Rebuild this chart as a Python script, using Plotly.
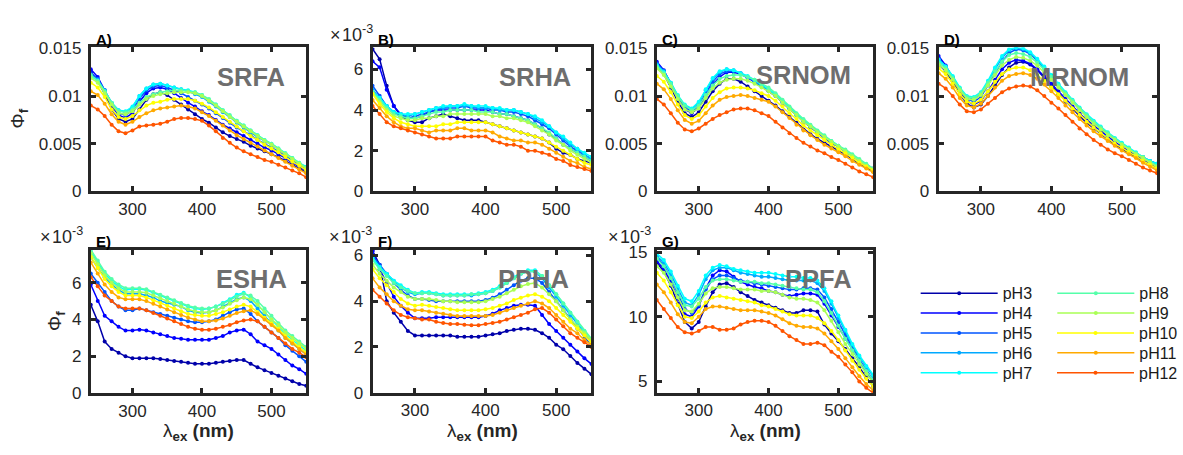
import plotly.graph_objects as go

W, H = 1183, 455
FONT = "Liberation Sans, Arial, sans-serif"
AXC = "#262626"

# ---------------- data (quantum yield, in units of 1e-3) ----------------
WL = list(range(240, 551, 10))  # excitation wavelength, nm
PH = ["pH3", "pH4", "pH5", "pH6", "pH7", "pH8", "pH9", "pH10", "pH11", "pH12"]
COLORS = ["#0000AA", "#0000FF", "#0055FF", "#00AAFF", "#00FFFF",
          "#55FFAA", "#AAFF55", "#FFFF00", "#FFAA00", "#FF5500"]

SRFA = [
    [12.5, 11.6, 10.2, 8.6, 7.6, 7.3, 7.6, 8.6, 9.6, 10.2, 10.4, 10.1, 9.6, 9.1, 8.6, 8.1, 7.6, 7.2, 6.7, 6.2, 5.8, 5.5, 5.2, 4.8, 4.5, 4.2, 3.9, 3.6, 3.2, 2.8, 2.4, 2.0],
    [12.8, 12.0, 10.6, 9.0, 8.0, 7.7, 8.2, 9.4, 10.3, 10.8, 10.9, 10.7, 10.3, 9.8, 9.3, 8.9, 8.4, 8.0, 7.5, 7.0, 6.6, 6.2, 5.8, 5.4, 5.0, 4.6, 4.3, 3.9, 3.5, 3.0, 2.6, 2.1],
    [12.4, 11.8, 10.6, 9.2, 8.2, 8.0, 8.5, 9.7, 10.6, 11.0, 11.1, 10.9, 10.6, 10.3, 9.9, 9.5, 9.1, 8.7, 8.2, 7.7, 7.2, 6.7, 6.3, 5.9, 5.4, 5.0, 4.6, 4.2, 3.7, 3.3, 2.8, 2.3],
    [12.2, 11.7, 10.6, 9.3, 8.5, 8.3, 8.8, 10.0, 10.8, 11.2, 11.3, 11.1, 10.9, 10.7, 10.5, 10.2, 9.9, 9.4, 8.9, 8.3, 7.8, 7.2, 6.7, 6.2, 5.7, 5.3, 4.9, 4.4, 3.9, 3.4, 2.9, 2.5],
    [12.1, 11.6, 10.5, 9.3, 8.5, 8.4, 8.9, 10.0, 10.8, 11.2, 11.3, 11.1, 10.9, 10.7, 10.6, 10.4, 10.1, 9.6, 9.1, 8.5, 7.9, 7.4, 6.9, 6.4, 5.9, 5.4, 5.0, 4.5, 4.0, 3.5, 3.0, 2.6],
    [12.2, 11.6, 10.5, 9.3, 8.4, 8.3, 8.6, 9.3, 9.9, 10.2, 10.4, 10.5, 10.6, 10.6, 10.5, 10.4, 10.1, 9.7, 9.1, 8.5, 8.0, 7.4, 6.9, 6.4, 5.9, 5.4, 5.0, 4.5, 4.0, 3.5, 3.0, 2.5],
    [11.9, 11.4, 10.3, 9.1, 8.2, 8.1, 8.4, 9.1, 9.7, 10.0, 10.2, 10.3, 10.4, 10.4, 10.4, 10.3, 10.0, 9.5, 9.0, 8.4, 7.8, 7.3, 6.8, 6.3, 5.8, 5.3, 4.9, 4.4, 3.9, 3.4, 2.9, 2.4],
    [11.4, 10.9, 9.9, 8.6, 7.8, 7.6, 7.9, 8.5, 9.0, 9.3, 9.4, 9.6, 9.7, 9.7, 9.7, 9.5, 9.2, 8.8, 8.3, 7.8, 7.3, 6.8, 6.3, 5.8, 5.4, 4.9, 4.5, 4.1, 3.6, 3.1, 2.7, 2.2],
    [10.5, 10.1, 9.2, 8.1, 7.3, 7.0, 7.3, 7.8, 8.2, 8.5, 8.7, 8.8, 8.9, 9.0, 8.9, 8.7, 8.3, 7.9, 7.4, 6.9, 6.4, 5.9, 5.5, 5.1, 4.7, 4.3, 3.9, 3.5, 3.1, 2.7, 2.3, 1.9],
    [9.0, 8.6, 7.9, 7.0, 6.3, 6.1, 6.4, 6.8, 6.9, 7.0, 7.1, 7.3, 7.6, 7.7, 7.7, 7.6, 7.4, 6.9, 6.3, 5.6, 5.1, 4.6, 4.2, 3.9, 3.6, 3.3, 3.1, 2.8, 2.5, 2.2, 1.9, 1.5],
]

SRHA = [
    [7.0, 6.5, 5.2, 4.2, 3.7, 3.5, 3.4, 3.4, 3.6, 3.7, 3.8, 3.7, 3.6, 3.5, 3.5, 3.5, 3.4, 3.3, 3.2, 3.1, 3.0, 2.9, 2.8, 2.7, 2.6, 2.4, 2.1, 1.9, 1.8, 1.6, 1.5, 1.4],
    [6.4, 6.1, 5.0, 4.2, 3.8, 3.6, 3.6, 3.7, 3.9, 4.0, 4.0, 4.0, 4.0, 4.0, 4.0, 4.0, 4.0, 3.9, 3.8, 3.8, 3.7, 3.6, 3.5, 3.3, 3.1, 2.8, 2.6, 2.3, 2.1, 1.9, 1.7, 1.5],
    [5.2, 4.7, 4.2, 3.9, 3.7, 3.6, 3.7, 3.8, 3.9, 4.0, 4.1, 4.1, 4.1, 4.2, 4.1, 4.1, 4.1, 4.0, 4.0, 3.9, 3.9, 3.8, 3.7, 3.5, 3.3, 3.1, 2.8, 2.5, 2.2, 2.0, 1.8, 1.6],
    [5.0, 4.6, 4.2, 3.9, 3.8, 3.7, 3.8, 3.9, 4.0, 4.1, 4.1, 4.2, 4.2, 4.2, 4.2, 4.1, 4.1, 4.1, 4.0, 4.0, 4.0, 3.9, 3.8, 3.6, 3.4, 3.2, 2.9, 2.6, 2.3, 2.1, 1.8, 1.6],
    [4.9, 4.6, 4.2, 3.9, 3.8, 3.8, 3.8, 3.9, 4.0, 4.1, 4.2, 4.2, 4.2, 4.3, 4.2, 4.2, 4.2, 4.1, 4.1, 4.0, 4.0, 3.9, 3.8, 3.7, 3.5, 3.2, 2.9, 2.7, 2.4, 2.1, 1.9, 1.7],
    [4.9, 4.5, 4.1, 3.8, 3.7, 3.6, 3.6, 3.7, 3.8, 3.9, 3.9, 4.0, 4.0, 4.0, 4.0, 3.9, 3.9, 3.9, 3.8, 3.8, 3.7, 3.6, 3.5, 3.3, 3.1, 2.9, 2.6, 2.3, 2.1, 1.9, 1.7, 1.5],
    [4.8, 4.4, 4.0, 3.7, 3.6, 3.5, 3.5, 3.6, 3.6, 3.7, 3.7, 3.8, 3.8, 3.8, 3.8, 3.8, 3.8, 3.7, 3.7, 3.6, 3.6, 3.5, 3.4, 3.2, 3.0, 2.8, 2.5, 2.3, 2.0, 1.8, 1.6, 1.4],
    [4.8, 4.3, 3.9, 3.6, 3.4, 3.3, 3.2, 3.2, 3.2, 3.2, 3.3, 3.3, 3.4, 3.4, 3.4, 3.4, 3.4, 3.3, 3.2, 3.1, 3.0, 2.9, 2.8, 2.7, 2.6, 2.4, 2.2, 2.0, 1.8, 1.6, 1.4, 1.3],
    [4.5, 4.1, 3.7, 3.4, 3.2, 3.1, 3.1, 3.0, 2.9, 3.0, 3.0, 3.0, 3.1, 3.1, 3.0, 3.0, 3.0, 2.9, 2.7, 2.6, 2.5, 2.5, 2.4, 2.4, 2.3, 2.1, 1.9, 1.7, 1.5, 1.4, 1.2, 1.1],
    [4.2, 3.8, 3.4, 3.2, 3.1, 3.0, 2.9, 2.8, 2.7, 2.6, 2.6, 2.6, 2.7, 2.7, 2.7, 2.7, 2.7, 2.5, 2.4, 2.3, 2.3, 2.2, 2.0, 2.0, 1.9, 1.8, 1.6, 1.5, 1.3, 1.2, 1.1, 1.0],
]

SRNOM = [
    [13.2, 12.3, 10.9, 9.4, 8.2, 7.8, 8.3, 9.4, 10.5, 11.3, 11.8, 11.8, 11.5, 11.0, 10.5, 10.0, 9.5, 9.0, 8.4, 7.8, 7.2, 6.5, 6.0, 5.5, 5.1, 4.7, 4.3, 3.9, 3.4, 2.9, 2.5, 2.1],
    [13.6, 12.7, 11.3, 9.8, 8.6, 8.2, 8.8, 10.0, 11.2, 12.0, 12.5, 12.5, 12.3, 11.9, 11.5, 11.0, 10.5, 10.0, 9.3, 8.7, 8.0, 7.3, 6.7, 6.1, 5.6, 5.1, 4.7, 4.2, 3.7, 3.2, 2.8, 2.4],
    [13.4, 12.6, 11.3, 9.9, 8.8, 8.4, 9.0, 10.3, 11.5, 12.3, 12.6, 12.6, 12.4, 12.0, 11.5, 11.0, 10.6, 10.1, 9.4, 8.7, 8.0, 7.4, 6.8, 6.2, 5.6, 5.1, 4.7, 4.2, 3.7, 3.2, 2.7, 2.3],
    [13.3, 12.6, 11.4, 10.0, 9.0, 8.6, 9.3, 10.6, 11.8, 12.5, 12.8, 12.7, 12.4, 12.0, 11.6, 11.1, 10.7, 10.1, 9.4, 8.7, 8.0, 7.4, 6.8, 6.2, 5.7, 5.2, 4.7, 4.2, 3.7, 3.2, 2.7, 2.2],
    [13.2, 12.5, 11.4, 10.1, 9.1, 8.7, 9.4, 10.7, 11.9, 12.6, 12.8, 12.7, 12.4, 12.1, 11.7, 11.2, 10.7, 10.2, 9.5, 8.8, 8.1, 7.5, 6.9, 6.3, 5.8, 5.3, 4.8, 4.3, 3.8, 3.3, 2.8, 2.3],
    [13.1, 12.4, 11.3, 10.0, 9.0, 8.5, 9.0, 10.1, 11.1, 11.8, 12.1, 12.2, 12.2, 12.0, 11.7, 11.3, 10.9, 10.3, 9.6, 8.9, 8.2, 7.6, 7.0, 6.4, 5.9, 5.3, 4.8, 4.4, 3.9, 3.4, 2.9, 2.4],
    [12.9, 12.2, 11.0, 9.7, 8.6, 8.3, 8.7, 9.8, 10.8, 11.4, 11.7, 11.8, 11.8, 11.6, 11.3, 10.9, 10.5, 10.0, 9.3, 8.6, 8.0, 7.3, 6.8, 6.2, 5.7, 5.2, 4.7, 4.2, 3.7, 3.2, 2.7, 2.3],
    [12.1, 11.5, 10.4, 9.1, 8.0, 7.6, 8.0, 8.9, 9.8, 10.4, 10.8, 10.9, 10.9, 10.8, 10.6, 10.3, 10.0, 9.5, 8.9, 8.2, 7.6, 6.9, 6.4, 5.9, 5.4, 4.9, 4.4, 4.0, 3.5, 3.0, 2.6, 2.2],
    [11.3, 10.7, 9.7, 8.5, 7.5, 7.1, 7.4, 8.2, 9.0, 9.6, 9.9, 10.0, 10.1, 10.0, 9.8, 9.6, 9.4, 8.9, 8.3, 7.7, 7.0, 6.4, 5.9, 5.4, 4.9, 4.5, 4.1, 3.7, 3.2, 2.8, 2.4, 2.0],
    [9.7, 9.1, 8.2, 7.2, 6.5, 6.3, 6.6, 7.1, 7.6, 8.0, 8.3, 8.6, 8.7, 8.7, 8.5, 8.2, 7.9, 7.3, 6.7, 6.1, 5.6, 5.1, 4.7, 4.3, 4.0, 3.6, 3.3, 2.9, 2.5, 2.1, 1.8, 1.5],
]

MRNOM = [
    [13.3, 12.6, 11.5, 10.2, 9.2, 8.8, 9.1, 10.0, 11.1, 12.2, 13.0, 13.5, 13.6, 13.3, 12.7, 11.9, 11.0, 10.2, 9.4, 8.6, 7.9, 7.2, 6.6, 6.0, 5.4, 4.9, 4.5, 4.0, 3.6, 3.2, 2.8, 2.4],
    [14.2, 13.2, 11.9, 10.5, 9.5, 9.1, 9.5, 10.5, 11.7, 12.8, 13.5, 13.8, 13.7, 13.4, 12.8, 12.1, 11.3, 10.5, 9.7, 8.9, 8.2, 7.5, 6.9, 6.3, 5.7, 5.2, 4.7, 4.2, 3.8, 3.3, 2.9, 2.6],
    [13.9, 13.1, 11.9, 10.6, 9.7, 9.4, 9.9, 11.1, 12.4, 13.6, 14.5, 14.9, 14.8, 14.4, 13.7, 12.9, 12.0, 11.1, 10.2, 9.4, 8.6, 7.9, 7.2, 6.6, 6.0, 5.5, 5.0, 4.5, 4.0, 3.6, 3.2, 2.9],
    [13.8, 13.1, 12.0, 10.8, 9.9, 9.7, 10.2, 11.4, 12.8, 14.0, 14.8, 15.0, 14.9, 14.5, 13.8, 13.0, 12.1, 11.2, 10.3, 9.5, 8.7, 8.0, 7.3, 6.7, 6.1, 5.5, 5.0, 4.5, 4.0, 3.6, 3.2, 2.9],
    [13.8, 13.1, 12.1, 10.9, 10.0, 9.9, 10.4, 11.6, 13.0, 14.2, 14.9, 15.1, 15.0, 14.6, 13.9, 13.1, 12.2, 11.3, 10.4, 9.6, 8.8, 8.1, 7.4, 6.8, 6.2, 5.6, 5.1, 4.6, 4.1, 3.6, 3.2, 2.9],
    [13.5, 12.9, 11.9, 10.8, 9.9, 9.8, 10.3, 11.4, 12.6, 13.6, 14.3, 14.5, 14.4, 14.1, 13.5, 12.8, 12.0, 11.1, 10.3, 9.5, 8.7, 8.0, 7.3, 6.7, 6.1, 5.5, 5.0, 4.5, 4.0, 3.6, 3.1, 2.7],
    [13.3, 12.7, 11.7, 10.6, 9.7, 9.6, 10.1, 11.1, 12.2, 13.2, 13.8, 14.1, 14.0, 13.7, 13.2, 12.5, 11.7, 10.9, 10.1, 9.3, 8.5, 7.8, 7.1, 6.5, 5.9, 5.4, 4.9, 4.4, 3.9, 3.5, 3.0, 2.6],
    [12.9, 12.3, 11.3, 10.2, 9.4, 9.2, 9.6, 10.5, 11.5, 12.3, 12.8, 13.0, 13.0, 12.7, 12.2, 11.6, 10.9, 10.2, 9.5, 8.7, 8.0, 7.3, 6.7, 6.1, 5.5, 5.0, 4.6, 4.1, 3.7, 3.2, 2.8, 2.4],
    [12.4, 11.8, 10.9, 9.8, 9.0, 8.8, 9.2, 10.0, 10.9, 11.6, 12.1, 12.3, 12.4, 12.2, 11.8, 11.2, 10.5, 9.8, 9.0, 8.3, 7.6, 6.9, 6.3, 5.8, 5.3, 4.8, 4.3, 3.9, 3.5, 3.0, 2.6, 2.2],
    [11.3, 10.8, 10.0, 9.1, 8.4, 8.3, 8.6, 9.2, 9.8, 10.4, 10.8, 11.0, 11.1, 11.0, 10.6, 10.0, 9.3, 8.7, 8.0, 7.3, 6.6, 6.0, 5.4, 4.9, 4.4, 4.0, 3.7, 3.3, 2.9, 2.5, 2.2, 1.9],
]

ESHA = [
    [4.8, 3.9, 2.8, 2.4, 2.2, 2.0, 1.9, 1.9, 1.9, 1.9, 1.85, 1.8, 1.75, 1.7, 1.65, 1.6, 1.6, 1.6, 1.65, 1.7, 1.75, 1.8, 1.8, 1.6, 1.4, 1.25, 1.1, 0.95, 0.8, 0.65, 0.5, 0.4],
    [5.9, 5.0, 4.2, 3.9, 3.6, 3.4, 3.4, 3.45, 3.4, 3.3, 3.2, 3.1, 3.0, 2.95, 2.9, 2.9, 2.9, 2.9, 3.0, 3.1, 3.3, 3.4, 3.45, 3.2, 2.8, 2.6, 2.4, 2.1, 1.8, 1.5, 1.3, 1.05],
    [6.5, 6.0, 5.5, 5.0, 4.7, 4.5, 4.5, 4.6, 4.5, 4.4, 4.3, 4.2, 4.1, 4.0, 3.9, 3.85, 3.85, 3.9, 4.0, 4.2, 4.4, 4.55, 4.6, 4.3, 3.9, 3.6, 3.3, 3.0, 2.6, 2.3, 2.0, 1.7],
    [7.4, 6.8, 6.3, 5.9, 5.6, 5.4, 5.4, 5.4, 5.3, 5.2, 5.0, 4.9, 4.8, 4.7, 4.5, 4.4, 4.35, 4.4, 4.5, 4.7, 4.9, 5.1, 5.2, 5.0, 4.6, 4.2, 3.8, 3.4, 3.0, 2.7, 2.4, 2.1],
    [7.7, 7.1, 6.5, 6.1, 5.8, 5.6, 5.65, 5.65, 5.6, 5.45, 5.3, 5.15, 5.0, 4.85, 4.7, 4.6, 4.55, 4.6, 4.7, 4.9, 5.1, 5.35, 5.45, 5.2, 4.8, 4.4, 4.0, 3.6, 3.2, 2.9, 2.6, 2.3],
    [7.8, 7.2, 6.6, 6.2, 5.9, 5.7, 5.7, 5.7, 5.65, 5.5, 5.35, 5.2, 5.05, 4.9, 4.75, 4.65, 4.6, 4.6, 4.7, 4.85, 5.05, 5.25, 5.4, 5.3, 5.0, 4.6, 4.2, 3.8, 3.4, 3.1, 2.8, 2.5],
    [7.6, 7.0, 6.4, 6.0, 5.7, 5.5, 5.5, 5.5, 5.45, 5.3, 5.15, 5.0, 4.85, 4.7, 4.55, 4.45, 4.4, 4.4, 4.5, 4.65, 4.85, 5.05, 5.2, 5.1, 4.8, 4.4, 4.0, 3.7, 3.3, 3.0, 2.7, 2.4],
    [7.4, 6.8, 6.2, 5.8, 5.5, 5.3, 5.3, 5.3, 5.2, 5.05, 4.9, 4.75, 4.6, 4.45, 4.3, 4.25, 4.2, 4.2, 4.3, 4.4, 4.55, 4.7, 4.8, 4.7, 4.4, 4.1, 3.8, 3.5, 3.1, 2.8, 2.5, 2.2],
    [7.1, 6.5, 5.9, 5.5, 5.2, 5.1, 5.1, 5.1, 5.0, 4.85, 4.7, 4.55, 4.4, 4.25, 4.1, 4.0, 3.9, 3.9, 3.95, 4.05, 4.2, 4.35, 4.45, 4.5, 4.3, 4.0, 3.7, 3.4, 3.0, 2.7, 2.4, 2.1],
    [6.3, 5.8, 5.3, 5.0, 4.7, 4.6, 4.6, 4.6, 4.5, 4.35, 4.2, 4.05, 3.9, 3.75, 3.6, 3.5, 3.45, 3.45, 3.5, 3.6, 3.7, 3.85, 3.95, 4.0, 3.9, 3.6, 3.3, 3.0, 2.7, 2.4, 2.2, 1.95],
]

PPHA = [
    [6.2, 5.6, 4.0, 3.5, 3.1, 2.7, 2.5, 2.5, 2.5, 2.5, 2.5, 2.5, 2.45, 2.45, 2.45, 2.45, 2.5, 2.55, 2.6, 2.7, 2.75, 2.8, 2.8, 2.75, 2.6, 2.4, 2.1, 1.9, 1.6, 1.3, 1.05, 0.8],
    [6.2, 5.4, 4.8, 4.2, 3.8, 3.5, 3.25, 3.25, 3.25, 3.3, 3.3, 3.3, 3.3, 3.3, 3.3, 3.3, 3.35, 3.45, 3.6, 3.7, 3.8, 3.85, 3.85, 3.8, 3.4, 3.0, 2.7, 2.4, 2.1, 1.8, 1.5, 1.25],
    [6.0, 5.6, 5.2, 4.8, 4.5, 4.25, 4.1, 4.1, 4.05, 4.0, 4.0, 4.0, 4.0, 4.0, 4.0, 4.0, 4.05, 4.15, 4.3, 4.5, 4.7, 4.9, 5.0, 5.0, 4.8, 4.4, 4.0, 3.6, 3.2, 2.8, 2.4, 2.05],
    [5.9, 5.5, 5.2, 4.9, 4.6, 4.4, 4.3, 4.35, 4.35, 4.3, 4.25, 4.25, 4.25, 4.25, 4.25, 4.3, 4.35, 4.45, 4.6, 4.8, 5.0, 5.2, 5.3, 5.3, 5.0, 4.6, 4.2, 3.8, 3.4, 3.0, 2.6, 2.2],
    [5.9, 5.5, 5.2, 4.9, 4.7, 4.5, 4.35, 4.4, 4.4, 4.35, 4.3, 4.3, 4.3, 4.3, 4.3, 4.35, 4.4, 4.5, 4.65, 4.85, 5.05, 5.25, 5.35, 5.35, 5.1, 4.7, 4.3, 3.9, 3.5, 3.1, 2.7, 2.3],
    [5.8, 5.4, 5.1, 4.8, 4.6, 4.45, 4.35, 4.35, 4.35, 4.3, 4.25, 4.25, 4.25, 4.25, 4.3, 4.3, 4.35, 4.45, 4.6, 4.8, 5.0, 5.2, 5.3, 5.3, 5.1, 4.7, 4.3, 3.9, 3.5, 3.1, 2.7, 2.35],
    [5.6, 5.2, 4.9, 4.6, 4.4, 4.2, 4.1, 4.1, 4.1, 4.05, 4.0, 4.0, 3.95, 3.95, 3.95, 3.95, 4.0, 4.1, 4.2, 4.35, 4.5, 4.65, 4.75, 4.8, 4.6, 4.3, 4.0, 3.6, 3.2, 2.9, 2.6, 2.3],
    [5.4, 5.0, 4.7, 4.4, 4.1, 3.9, 3.8, 3.85, 3.8, 3.75, 3.7, 3.65, 3.6, 3.6, 3.6, 3.6, 3.65, 3.7, 3.8, 3.9, 4.05, 4.15, 4.25, 4.3, 4.2, 4.0, 3.7, 3.4, 3.1, 2.8, 2.5, 2.2],
    [5.0, 4.6, 4.3, 4.0, 3.8, 3.65, 3.6, 3.6, 3.55, 3.5, 3.45, 3.4, 3.35, 3.35, 3.35, 3.35, 3.35, 3.4, 3.5, 3.6, 3.7, 3.8, 3.9, 4.0, 3.9, 3.7, 3.4, 3.1, 2.8, 2.6, 2.3, 2.1],
    [4.5, 4.2, 3.9, 3.6, 3.4, 3.3, 3.25, 3.2, 3.2, 3.1, 3.05, 3.0, 3.0, 2.97, 2.95, 2.95, 3.0, 3.05, 3.1, 3.2, 3.3, 3.4, 3.5, 3.65, 3.7, 3.5, 3.2, 2.9, 2.6, 2.4, 2.2, 2.0],
]

PPFA = [
    [14.2, 13.5, 12.4, 11.0, 9.6, 9.1, 9.6, 10.8, 11.9, 12.5, 12.6, 12.3, 11.9, 11.6, 11.3, 11.1, 10.9, 10.7, 10.5, 10.3, 10.3, 10.5, 10.5, 10.4, 9.4, 8.7, 8.1, 7.5, 6.8, 6.1, 5.3, 4.6],
    [14.3, 13.7, 12.7, 11.4, 10.2, 10.0, 10.8, 12.2, 13.2, 13.6, 13.5, 13.1, 12.7, 12.5, 12.3, 12.2, 12.0, 11.9, 11.7, 11.6, 11.7, 11.8, 11.8, 11.7, 11.0, 10.1, 9.2, 8.3, 7.4, 6.5, 5.7, 4.9],
    [14.6, 14.0, 13.0, 11.8, 10.6, 10.3, 10.9, 12.1, 12.9, 13.2, 13.2, 13.0, 12.8, 12.7, 12.6, 12.5, 12.4, 12.3, 12.2, 12.1, 12.1, 12.2, 12.2, 12.1, 11.5, 10.6, 9.6, 8.6, 7.6, 6.7, 5.9, 5.1],
    [14.7, 14.2, 13.3, 12.2, 11.1, 10.9, 11.7, 12.9, 13.6, 13.8, 13.8, 13.6, 13.4, 13.3, 13.2, 13.1, 13.1, 13.0, 12.9, 12.8, 12.8, 12.8, 12.8, 12.6, 12.0, 11.0, 9.9, 8.9, 7.8, 6.9, 6.1, 5.4],
    [14.9, 14.4, 13.5, 12.4, 11.4, 11.2, 12.0, 13.2, 13.8, 14.0, 13.9, 13.7, 13.6, 13.5, 13.4, 13.4, 13.4, 13.3, 13.2, 13.1, 13.1, 13.0, 13.0, 12.8, 12.2, 11.2, 10.1, 9.0, 7.9, 7.0, 6.2, 5.5],
    [14.5, 13.9, 13.0, 11.9, 10.9, 10.8, 11.4, 12.3, 12.8, 12.9, 12.9, 12.8, 12.7, 12.7, 12.7, 12.6, 12.6, 12.5, 12.4, 12.3, 12.2, 12.1, 12.1, 11.9, 11.2, 10.3, 9.3, 8.3, 7.4, 6.6, 5.8, 5.1],
    [13.9, 13.4, 12.5, 11.5, 10.5, 10.4, 11.0, 11.8, 12.2, 12.3, 12.3, 12.2, 12.1, 12.1, 12.1, 12.0, 12.0, 11.9, 11.7, 11.5, 11.4, 11.4, 11.3, 11.1, 10.5, 9.7, 8.8, 7.9, 7.1, 6.3, 5.6, 4.9],
    [13.4, 12.8, 11.9, 10.9, 10.0, 9.9, 10.4, 11.1, 11.5, 11.6, 11.5, 11.4, 11.3, 11.2, 11.1, 10.9, 10.8, 10.6, 10.4, 10.2, 10.1, 10.1, 10.1, 9.9, 9.5, 8.9, 8.2, 7.4, 6.6, 5.9, 5.2, 4.6],
    [12.5, 11.9, 11.1, 10.2, 9.6, 9.5, 10.0, 10.6, 10.8, 10.8, 10.7, 10.6, 10.5, 10.5, 10.5, 10.4, 10.3, 10.1, 9.8, 9.5, 9.3, 9.2, 9.2, 9.1, 8.7, 8.1, 7.5, 6.8, 6.1, 5.4, 4.8, 4.3],
    [11.3, 10.6, 9.9, 9.2, 8.8, 8.7, 8.9, 9.2, 9.2, 9.0, 9.0, 9.1, 9.4, 9.6, 9.7, 9.7, 9.6, 9.3, 8.9, 8.5, 8.2, 7.9, 7.9, 8.0, 7.8, 7.3, 6.9, 6.3, 5.7, 5.0, 4.5, 4.1],
]

PANEL_LETTERS = ["A)", "B)", "C)", "D)", "E)", "F)", "G)"]
PANEL_NAMES = ["SRFA", "SRHA", "SRNOM", "MRNOM", "ESHA", "PPHA", "PPFA"]
PANEL_DATA = [SRFA, SRHA, SRNOM, MRNOM, ESHA, PPHA, PPFA]
X_TICKS = [300, 400, 500]

# ---------------- layout / style per panel ----------------
# exp: right edge (px) of the "x10^-3" multiplier label, or None
PANELS = [
    dict(box=(89.5, 39.5, 308.5, 192.5), yr=[0, 0.0151], tv=[0, 0.005, 0.01, 0.015],
         tt=["0", "0.005", "0.01", "0.015"], scale=1e-3, name_xy=(252, 72), exp=None),
    dict(box=(372, 39.5, 594.5, 192.5), yr=[0, 7.08], tv=[0, 2, 4, 6],
         tt=["0", "2", "4", "6"], scale=1, name_xy=(536, 72), exp=376),
    dict(box=(657, 39.5, 877, 192.5), yr=[0, 0.0151], tv=[0, 0.005, 0.01, 0.015],
         tt=["0", "0.005", "0.01", "0.015"], scale=1e-3, name_xy=(806, 70), exp=None),
    dict(box=(939.5, 39.5, 1161.5, 192.5), yr=[0, 0.0151], tv=[0, 0.005, 0.01, 0.015],
         tt=["0", "0.005", "0.01", "0.015"], scale=1e-3, name_xy=(1082, 72), exp=None),
    dict(box=(89.5, 250, 308.5, 402.5), yr=[0, 7.8], tv=[0, 2, 4, 6],
         tt=["0", "2", "4", "6"], scale=1, name_xy=(252, 282), exp=85),
    dict(box=(372, 250, 594.5, 402), yr=[0, 6.26], tv=[0, 2, 4, 6],
         tt=["0", "2", "4", "6"], scale=1, name_xy=(535, 282), exp=375),
    dict(box=(657, 250, 877, 402), yr=[4.13, 15.2], tv=[5, 10, 15],
         tt=["5", "10", "15"], scale=1, name_xy=(821, 282), exp=655),
]

LW = 3  # frame line width


def px(x):
    return x / W


def py(y):
    return 1 - y / H


fig = go.Figure()
layout = dict(
    width=W, height=H, margin=dict(l=0, r=0, t=0, b=0),
    paper_bgcolor="white", plot_bgcolor="white",
    font=dict(family=FONT, color=AXC), showlegend=True,
)
annotations = []

for i, (p, data) in enumerate(zip(PANELS, PANEL_DATA)):
    sfx = "" if i == 0 else str(i + 1)
    l, t, r, b = p["box"]
    inset = LW / 2
    xa = dict(domain=[px(l + inset), px(r - inset)], range=[240, 550], tickvals=X_TICKS,
              ticks="inside", ticklen=5, tickwidth=2.5, tickcolor=AXC,
              showline=True, linewidth=LW, linecolor=AXC, mirror="allticks",
              showgrid=False, zeroline=False, anchor="y" + sfx,
              tickfont=dict(family=FONT, size=17, color=AXC))
    ya = dict(domain=[py(b - inset), py(t + inset)], range=p["yr"], tickvals=p["tv"],
              ticktext=p["tt"], ticks="inside", ticklen=5, tickwidth=2.5, tickcolor=AXC,
              showline=True, linewidth=LW, linecolor=AXC, mirror="allticks",
              showgrid=False, zeroline=False, anchor="x" + sfx, ticklabelstandoff=3,
              tickfont=dict(family=FONT, size=17, color=AXC))
    layout["xaxis" + sfx] = xa
    layout["yaxis" + sfx] = ya

    for j, (nm, col) in enumerate(zip(PH, COLORS)):
        fig.add_trace(go.Scatter(
            x=WL, y=[v * p["scale"] for v in data[j]], mode="lines+markers", name=nm,
            line=dict(color=col, width=1.5), marker=dict(color=col, size=4),
            xaxis="x" + sfx, yaxis="y" + sfx, showlegend=(i == 0),
            legend=("legend" if j == 0 else "legend%d" % (j + 1)),
        ))

    # panel letter
    annotations.append(dict(text="<b>%s</b>" % PANEL_LETTERS[i], x=px(l + 5), y=py(t - 7),
                            xref="paper", yref="paper", xanchor="left", yanchor="middle",
                            showarrow=False, font=dict(family=FONT, size=15, color="black")))
    # sample name
    nx, ny = p["name_xy"]
    annotations.append(dict(text="<b>%s</b>" % PANEL_NAMES[i], x=px(nx), y=py(ny),
                            xref="paper", yref="paper", xanchor="center", yanchor="middle",
                            showarrow=False, font=dict(family=FONT, size=25.5, color="#6E6E6E")))
    if p["exp"] is not None:
        annotations.append(dict(text="×\u200a10<sup>-3</sup>", x=px(p["exp"]), y=py(t - 13),
                                xref="paper", yref="paper", xanchor="right", yanchor="middle",
                                showarrow=False, font=dict(family=FONT, size=18, color=AXC)))

# axis titles
for (xc, yc) in [(20, 115), (56, 326)]:
    annotations.append(dict(text="Φ<sub><b>f</b></sub>", x=px(xc), y=py(yc), textangle=-90,
                            xref="paper", yref="paper", xanchor="center", yanchor="middle",
                            showarrow=False, font=dict(family=FONT, size=19, color=AXC)))
for k in (4, 5, 6):
    l, t, r, b = PANELS[k]["box"]
    annotations.append(dict(text="λ<sub><b>ex</b></sub><b> (nm)</b>", x=px((l + r) / 2), y=py(441),
                            xref="paper", yref="paper", xanchor="center", yanchor="middle",
                            showarrow=False, font=dict(family=FONT, size=19, color=AXC)))

layout["annotations"] = annotations

# legends: two columns of five entries
LEG_X = [923, 1060]
LEG_Y0, LEG_DY = 297, 20.7
for j in range(10):
    key = "legend" if j == 0 else "legend%d" % (j + 1)
    col, row = divmod(j, 5)
    layout[key] = dict(x=px(LEG_X[col] - 5), y=py(LEG_Y0 + row * LEG_DY), xanchor="left",
                       yanchor="middle", bgcolor="rgba(0,0,0,0)", borderwidth=0,
                       itemwidth=77, font=dict(family=FONT, size=16, color="#1a1a1a"))

fig.update_layout(**layout)
fig.write_html("out.html")
